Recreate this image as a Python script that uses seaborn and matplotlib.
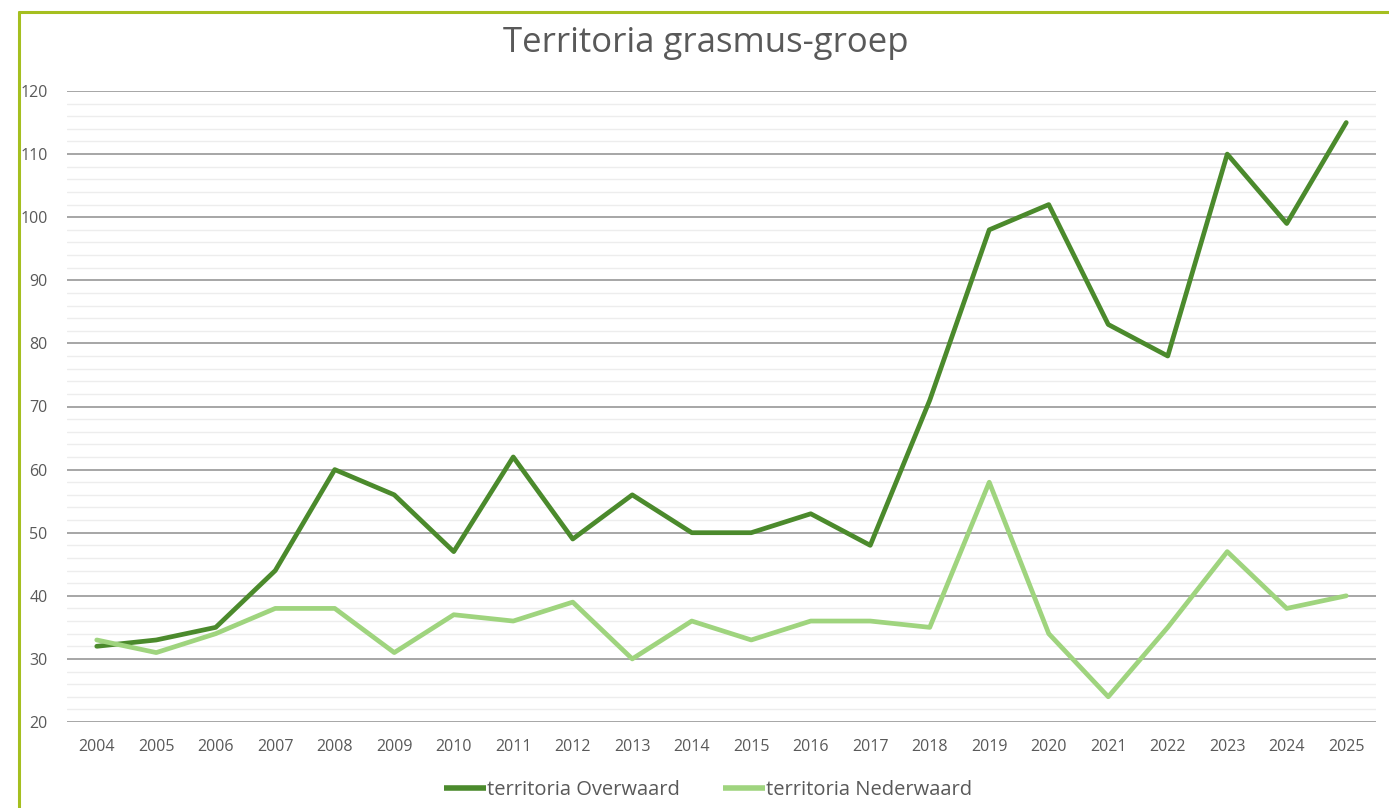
import matplotlib
matplotlib.use("Agg")
import matplotlib.pyplot as plt
from matplotlib.lines import Line2D
from matplotlib.ticker import MultipleLocator
import seaborn as sns
import pandas as pd

years = list(range(2004, 2026))
overwaard = [32, 33, 35, 44, 60, 56, 47, 62, 49, 56, 50, 50, 53, 48, 71, 98, 102, 83, 78, 110, 99, 115]
nederwaard = [33, 31, 34, 38, 38, 31, 37, 36, 39, 30, 36, 33, 36, 36, 35, 58, 34, 24, 35, 47, 38, 40]
series_names = ["territoria Overwaard", "territoria Nederwaard"]
title = "Territoria grasmus-groep"

df = pd.DataFrame({
    "jaar": years * 2,
    "territoria": overwaard + nederwaard,
    "serie": [series_names[0]] * len(years) + [series_names[1]] * len(years),
})

sns.set_style("white")
plt.rcParams['font.family'] = ['Open Sans', 'DejaVu Sans']

fig = plt.figure(figsize=(13.89, 8.08), dpi=100)
ax = fig.add_axes([67 / 1389, 1 - 722 / 808, (1376 - 67) / 1389, (722 - 91) / 808])

palette = {series_names[0]: "#4b8a2c", series_names[1]: "#9fd47e"}
sns.lineplot(data=df, x="jaar", y="territoria", hue="serie", palette=palette,
             linewidth=3.4, ax=ax, legend=True)

ax.set_xlim(2003.5, 2025.5)
ax.set_ylim(20, 120)
ax.set_xticks(years)
ax.set_xticklabels([str(y) for y in years])
ax.yaxis.set_major_locator(MultipleLocator(10))
ax.yaxis.set_minor_locator(MultipleLocator(2))
ax.grid(True, which="major", axis="y", color="#a6a6a6", linewidth=1.4, zorder=0)
ax.grid(True, which="minor", axis="y", color="#ededed", linewidth=1.0, zorder=0)
ax.set_axisbelow(True)
for s in ax.spines.values():
    s.set_visible(False)
ax.tick_params(axis="both", which="both", length=0, labelsize=11.5, colors="#595959")
ax.tick_params(axis="x", pad=12)
ax.tick_params(axis="y", pad=14)
ax.set_xlabel("")
ax.set_ylabel("")

fig.text(706 / 1389, 1 - 43 / 808, title, ha="center", va="center",
         fontsize=25, color="#595959")

leg = ax.legend(loc="center", bbox_to_anchor=(708 / 1389, 1 - 790 / 808),
                bbox_transform=fig.transFigure, ncol=2, frameon=False,
                fontsize=14.5, handlelength=2.1, handletextpad=0.05,
                columnspacing=2.1, labelcolor="#595959")
for line in leg.get_lines():
    line.set_linewidth(4)
    line.set_solid_capstyle("butt")

frame_color = "#a5bf1f"
fig.add_artist(Line2D([19 / 1389, 19 / 1389], [0, 1 - 12 / 808], color=frame_color,
                      linewidth=2.2, transform=fig.transFigure))
fig.add_artist(Line2D([19 / 1389, 1], [1 - 12 / 808, 1 - 12 / 808], color=frame_color,
                      linewidth=2.2, transform=fig.transFigure))

fig.savefig("out.png", dpi=100, facecolor="white")
